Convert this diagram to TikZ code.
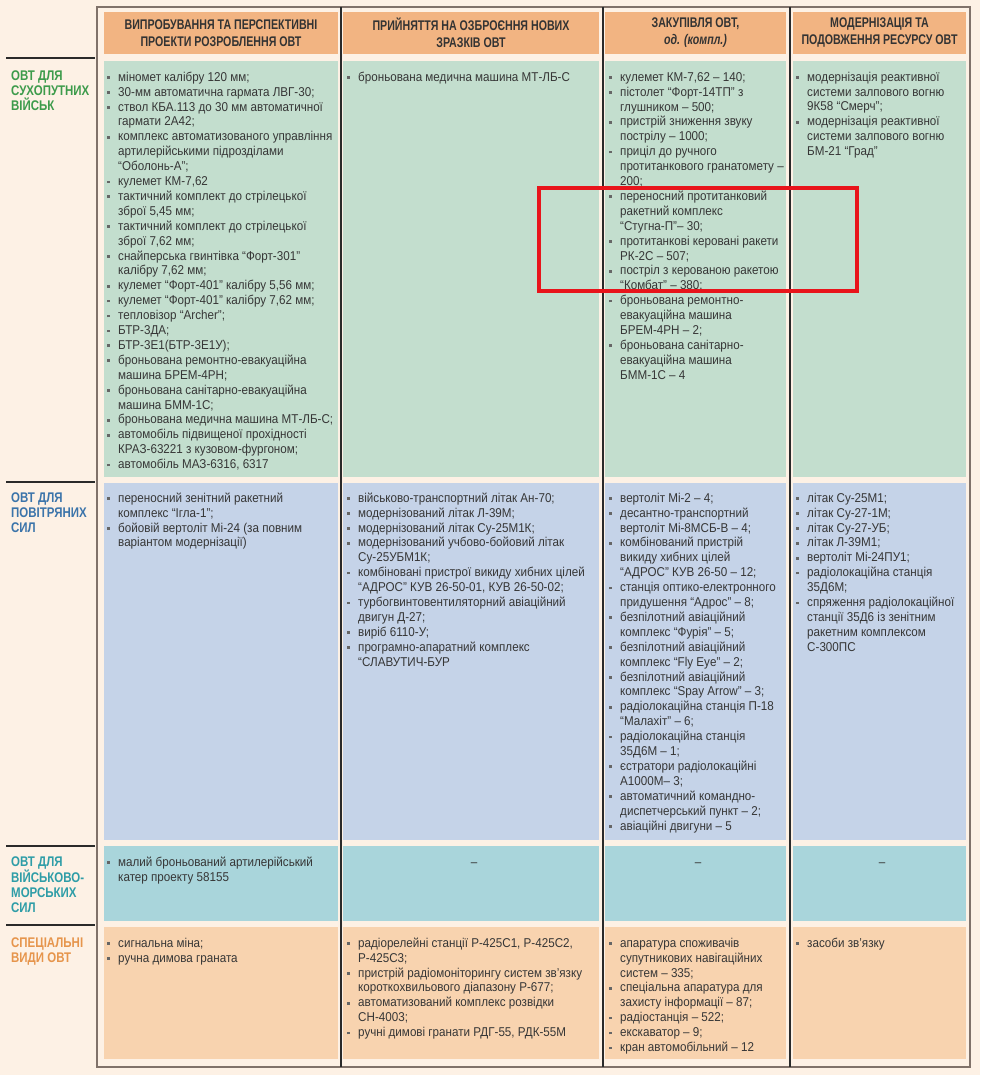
\documentclass[tikz,border=0pt]{standalone}
\usepackage{fontspec}
\setmainfont{Liberation Sans}[FakeStretch=0.91]
\newfontfamily\hfont{Liberation Sans}[FakeStretch=0.76]
\newfontfamily\lfont{Liberation Sans}[FakeStretch=0.82]
\definecolor{bgc}{HTML}{FDF1E5}
\definecolor{hdrc}{HTML}{F2B482}
\definecolor{grnc}{HTML}{C3DECE}
\definecolor{bluc}{HTML}{C5D3E8}
\definecolor{tealc}{HTML}{A9D5DB}
\definecolor{pchc}{HTML}{F8D3AF}
\definecolor{txtc}{HTML}{363636}
\definecolor{hdtc}{HTML}{333333}
\definecolor{labg}{HTML}{3D9B4B}
\definecolor{labb}{HTML}{3B74AA}
\definecolor{labt}{HTML}{2E9DA7}
\definecolor{labo}{HTML}{E6954C}
\definecolor{framec}{HTML}{80726A}
\definecolor{sepc}{HTML}{2A2A2A}
\definecolor{bulc}{HTML}{666666}
\definecolor{redc}{HTML}{E8141B}
\newcommand\bl{\llap{\textcolor{bulc}{\rule[2.3pt]{2.7pt}{2.7pt}}\hspace{8.3pt}}}
\newcommand\fs{\rule{0pt}{11pt}}
\tikzset{
  cellbox/.style={anchor=north west, inner sep=0pt, outer sep=0pt, draw=none},
  txt/.style={anchor=north west, inner sep=0pt, align=left, text=txtc, font=\fontsize{12.8}{14.9}\selectfont},
  hdr/.style={fill=hdrc, inner sep=0pt, minimum height=42pt, align=center, text=hdtc, font=\hfont\bfseries\fontsize{14}{17}\selectfont},
  lab/.style={anchor=north west, inner sep=0pt, align=left, font=\lfont\bfseries\fontsize{14}{15}\selectfont},
  dashnode/.style={anchor=base, inner sep=0pt, text=txtc, font=\fontsize{12.8}{14.9}\selectfont},
  rowsep/.style={draw=sepc, line width=1.3pt},
  colsep/.style={draw=sepc, line width=1.6pt},
  framel/.style={draw=framec, line width=2pt}
}
\begin{document}
\begin{tikzpicture}[x=1pt,y=-1pt]
\useasboundingbox (0,0) rectangle (980,1075);
\fill[bgc] (0,0) rectangle (980,1075);

% header cells
\node[hdr, minimum width=234pt] (h1) at (221,33) {ВИПРОБУВАННЯ ТА ПЕРСПЕКТИВНІ\\ПРОЕКТИ РОЗРОБЛЕННЯ ОВТ};
\node[hdr, minimum width=256pt] (h2) at (471,33) {ПРИЙНЯТТЯ НА ОЗБРОЄННЯ НОВИХ\\ЗРАЗКІВ ОВТ};
\node[hdr, minimum width=181pt] (h3) at (695.5,33) {ЗАКУПІВЛЯ ОВТ,\\\itshape од. (компл.)};
\node[hdr, minimum width=173pt] (h4) at (879.5,33) {МОДЕРНІЗАЦІЯ ТА\\ПОДОВЖЕННЯ РЕСУРСУ ОВТ};

% body cells
\node[cellbox, fill=grnc, minimum width=234pt, minimum height=416pt] (c11) at (104,61) {};
\node[cellbox, fill=grnc, minimum width=256pt, minimum height=416pt] (c12) at (343,61) {};
\node[cellbox, fill=grnc, minimum width=181pt, minimum height=416pt] (c13) at (605,61) {};
\node[cellbox, fill=grnc, minimum width=173pt, minimum height=416pt] (c14) at (793,61) {};
\node[cellbox, fill=bluc, minimum width=234pt, minimum height=357pt] (c21) at (104,483) {};
\node[cellbox, fill=bluc, minimum width=256pt, minimum height=357pt] (c22) at (343,483) {};
\node[cellbox, fill=bluc, minimum width=181pt, minimum height=357pt] (c23) at (605,483) {};
\node[cellbox, fill=bluc, minimum width=173pt, minimum height=357pt] (c24) at (793,483) {};
\node[cellbox, fill=tealc, minimum width=234pt, minimum height=75pt] (c31) at (104,846) {};
\node[cellbox, fill=tealc, minimum width=256pt, minimum height=75pt] (c32) at (343,846) {};
\node[cellbox, fill=tealc, minimum width=181pt, minimum height=75pt] (c33) at (605,846) {};
\node[cellbox, fill=tealc, minimum width=173pt, minimum height=75pt] (c34) at (793,846) {};
\node[cellbox, fill=pchc, minimum width=234pt, minimum height=132pt] (c41) at (104,927) {};
\node[cellbox, fill=pchc, minimum width=256pt, minimum height=132pt] (c42) at (343,927) {};
\node[cellbox, fill=pchc, minimum width=181pt, minimum height=132pt] (c43) at (605,927) {};
\node[cellbox, fill=pchc, minimum width=173pt, minimum height=132pt] (c44) at (793,927) {};

% frame and separators
\draw[framel] (97,7) -- (97,1067) -- (970,1067) -- (970,7) -- cycle;
\draw[colsep] (341,7) -- (341,1067);
\draw[colsep] (603,7) -- (603,1067);
\draw[colsep] (790,7) -- (790,1067);
\draw[rowsep] (6,58) -- (95,58);
\draw[rowsep] (6,482) -- (95,482);
\draw[rowsep] (6,846) -- (95,846);
\draw[rowsep] (6,925) -- (95,925);

% row labels
\node[lab, text=labg] (l1) at (11,69) {\fs ОВТ ДЛЯ\\СУХОПУТНИХ\\ВІЙСЬК};
\node[lab, text=labb] (l2) at (11,491) {\fs ОВТ ДЛЯ\\ПОВІТРЯНИХ\\СИЛ};
\node[lab, text=labt] (l3) at (11,855) {\fs ОВТ ДЛЯ\\ВІЙСЬКОВО-\\МОРСЬКИХ\\СИЛ};
\node[lab, text=labo] (l4) at (11,936) {\fs СПЕЦІАЛЬНІ\\ВИДИ ОВТ};

% row 1
\node[txt] (t11) at (118,70) {\fs\bl міномет калібру 120 мм;\\
\bl 30-мм автоматична гармата ЛВГ-30;\\
\bl ствол КБА.113 до 30 мм автоматичної\\
гармати 2А42;\\
\bl комплекс автоматизованого управління\\
артилерійськими підрозділами\\
“Оболонь-А”;\\
\bl кулемет КМ-7,62\\
\bl тактичний комплект до стрілецької\\
зброї 5,45 мм;\\
\bl тактичний комплект до стрілецької\\
зброї 7,62 мм;\\
\bl снайперська гвинтівка “Форт-301”\\
калібру 7,62 мм;\\
\bl кулемет “Форт-401” калібру 5,56 мм;\\
\bl кулемет “Форт-401” калібру 7,62 мм;\\
\bl тепловізор “Archer”;\\
\bl БТР-3ДА;\\
\bl БТР-3Е1(БТР-3Е1У);\\
\bl броньована ремонтно-евакуаційна\\
машина БРЕМ-4РН;\\
\bl броньована санітарно-евакуаційна\\
машина БММ-1С;\\
\bl броньована медична машина МТ-ЛБ-С;\\
\bl автомобіль підвищеної прохідності\\
КРАЗ-63221 з кузовом-фургоном;\\
\bl автомобіль МАЗ-6316, 6317};
\node[txt] (t12) at (358,70) {\fs\bl броньована медична машина МТ-ЛБ-С};
\node[txt] (t13) at (620,70) {\fs\bl кулемет КМ-7,62 – 140;\\
\bl пістолет “Форт-14ТП” з\\
глушником – 500;\\
\bl пристрій зниження звуку\\
пострілу – 1000;\\
\bl приціл до ручного\\
протитанкового гранатомету –\\
200;\\
\bl переносний протитанковий\\
ракетний комплекс\\
“Стугна-П”– 30;\\
\bl протитанкові керовані ракети\\
РК-2С – 507;\\
\bl постріл з керованою ракетою\\
“Комбат” – 380;\\
\bl броньована ремонтно-\\
евакуаційна машина\\
БРЕМ-4РН – 2;\\
\bl броньована санітарно-\\
евакуаційна машина\\
БММ-1С – 4};
\node[txt] (t14) at (807,70) {\fs\bl модернізація реактивної\\
системи залпового вогню\\
9К58 “Смерч”;\\
\bl модернізація реактивної\\
системи залпового вогню\\
БМ-21 “Град”};

% row 2
\node[txt] (t21) at (118,491) {\fs\bl переносний зенітний ракетний\\
комплекс “Ігла-1”;\\
\bl бойовій вертоліт Мі-24 (за повним\\
варіантом модернізації)};
\node[txt] (t22) at (358,491) {\fs\bl військово-транспортний літак  Ан-70;\\
\bl модернізований літак Л-39М;\\
\bl модернізований літак Су-25М1К;\\
\bl модернізований  учбово-бойовий літак\\
Су-25УБМ1К;\\
\bl комбіновані пристрої викиду хибних цілей\\
“АДРОС” КУВ 26-50-01, КУВ 26-50-02;\\
\bl турбогвинтовентиляторний авіаційний\\
двигун Д-27;\\
\bl виріб 6110-У;\\
\bl програмно-апаратний комплекс\\
“СЛАВУТИЧ-БУР};
\node[txt] (t23) at (620,491) {\fs\bl вертоліт Мі-2 – 4;\\
\bl десантно-транспортний\\
вертоліт Мі-8МСБ-В – 4;\\
\bl комбінований пристрій\\
викиду хибних цілей\\
“АДРОС” КУВ 26-50 – 12;\\
\bl станція оптико-електронного\\
придушення “Адрос” – 8;\\
\bl безпілотний авіаційний\\
комплекс “Фурія” – 5;\\
\bl безпілотний авіаційний\\
комплекс “Fly Eye” – 2;\\
\bl безпілотний авіаційний\\
комплекс “Spay Arrow” – 3;\\
\bl радіолокаційна станція П-18\\
“Малахіт” – 6;\\
\bl радіолокаційна станція\\
35Д6М – 1;\\
\bl єстратори радіолокаційні\\
А1000М– 3;\\
\bl автоматичний командно-\\
диспетчерський пункт – 2;\\
\bl авіаційні двигуни – 5};
\node[txt] (t24) at (807,491) {\fs\bl літак Су-25М1;\\
\bl літак Су-27-1М;\\
\bl літак Су-27-УБ;\\
\bl літак Л-39М1;\\
\bl вертоліт Мі-24ПУ1;\\
\bl радіолокаційна станція\\
35Д6М;\\
\bl спряження радіолокаційної\\
станції 35Д6 із зенітним\\
ракетним комплексом\\
С-300ПС};

% row 3
\node[txt] (t31) at (118,855) {\fs\bl малий броньований артилерійський\\
катер проекту 58155};
\node[dashnode] (d32) at (474,866) {–};
\node[dashnode] (d33) at (698,866) {–};
\node[dashnode] (d34) at (882,866) {–};

% row 4
\node[txt] (t41) at (118,936) {\fs\bl сигнальна міна;\\
\bl ручна димова граната};
\node[txt] (t42) at (358,936) {\fs\bl радіорелейні станції Р-425С1, Р-425С2,\\
Р-425С3;\\
\bl пристрій радіомоніторингу систем зв’язку\\
короткохвильового діапазону Р-677;\\
\bl автоматизований комплекс розвідки\\
СН-4003;\\
\bl ручні димові гранати РДГ-55, РДК-55М};
\node[txt] (t43) at (620,936) {\fs\bl апаратура споживачів\\
супутникових навігаційних\\
систем – 335;\\
\bl спеціальна апаратура для\\
захисту інформації – 87;\\
\bl радіостанція – 522;\\
\bl екскаватор – 9;\\
\bl кран автомобільний – 12};
\node[txt] (t44) at (807,936) {\fs\bl засоби зв’язку};

% highlight
\node[cellbox, draw=redc, line width=3.5pt, minimum width=318pt, minimum height=103pt] (hl) at (539,188) {};
\end{tikzpicture}
\end{document}
